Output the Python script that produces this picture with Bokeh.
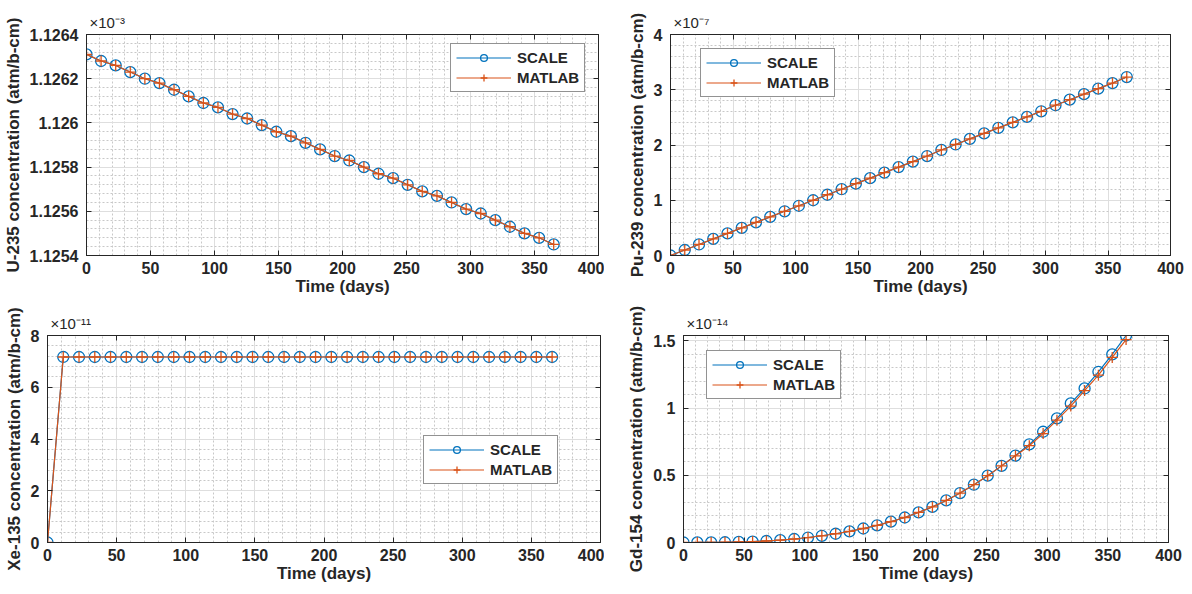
from bokeh.plotting import figure
from bokeh.layouts import column, row
from bokeh.models import (Range1d, FixedTicker, LinearAxis, Legend,
                          LegendItem, CustomJSTickFormatter)
from bokeh.embed import file_html
from bokeh.resources import INLINE

# ---------------- data ----------------
time_days = [0, 11.4, 22.8, 34.2, 45.6, 57.0, 68.4, 79.8, 91.3, 102.7, 114.1,
             125.5, 136.9, 148.3, 159.7, 171.1, 182.5, 193.9, 205.3, 216.7,
             228.1, 239.5, 250.9, 262.3, 273.8, 285.2, 296.6, 308.0, 319.4,
             330.8, 342.2, 353.6, 365.0]

# U-235 (x1e-3 atm/b-cm)
u235_scale = [1.12631, 1.12628, 1.12626, 1.12623, 1.12620, 1.12618, 1.12615,
              1.12612, 1.12609, 1.12607, 1.12604, 1.12602, 1.12599, 1.12596,
              1.12594, 1.12591, 1.12588, 1.12585, 1.12583, 1.12580, 1.12577,
              1.12575, 1.12572, 1.12569, 1.12567, 1.12564, 1.12561, 1.12559,
              1.12556, 1.12553, 1.12550, 1.12548, 1.12545]
u235_matlab = [1.12631, 1.12628, 1.12626, 1.12623, 1.12620, 1.12618, 1.12615,
               1.12612, 1.12609, 1.12607, 1.12604, 1.12602, 1.12599, 1.12596,
               1.12594, 1.12591, 1.12588, 1.12585, 1.12583, 1.12580, 1.12577,
               1.12575, 1.12572, 1.12569, 1.12567, 1.12564, 1.12561, 1.12559,
               1.12556, 1.12553, 1.12550, 1.12548, 1.12545]

# Pu-239 (x1e-7 atm/b-cm)
pu239_scale = [0.00, 0.10, 0.20, 0.30, 0.40, 0.50, 0.60, 0.70, 0.80, 0.90,
               1.00, 1.10, 1.20, 1.30, 1.40, 1.50, 1.60, 1.70, 1.80, 1.91,
               2.01, 2.11, 2.21, 2.31, 2.41, 2.51, 2.61, 2.72, 2.82, 2.92,
               3.02, 3.12, 3.23]
pu239_matlab = [0.00, 0.10, 0.20, 0.30, 0.40, 0.50, 0.60, 0.70, 0.80, 0.90,
                1.00, 1.10, 1.20, 1.30, 1.40, 1.50, 1.60, 1.70, 1.80, 1.91,
                2.01, 2.11, 2.21, 2.31, 2.41, 2.51, 2.61, 2.72, 2.82, 2.92,
                3.02, 3.12, 3.23]

# Xe-135 (x1e-11 atm/b-cm)
xe135_scale = [0.0] + [7.17] * 32
xe135_matlab = [0.0] + [7.17] * 32

# Gd-154 (x1e-14 atm/b-cm)
gd154_scale = [0.000, 0.0002, 0.0008, 0.002, 0.004, 0.007, 0.011, 0.017,
               0.026, 0.037, 0.050, 0.065, 0.083, 0.104, 0.128, 0.155, 0.186,
               0.224, 0.265, 0.313, 0.368, 0.430, 0.497, 0.570, 0.647, 0.730,
               0.824, 0.923, 1.035, 1.146, 1.270, 1.400, 1.540]
gd154_matlab = [0.000, 0.0002, 0.0008, 0.002, 0.004, 0.007, 0.011, 0.017,
                0.026, 0.037, 0.050, 0.065, 0.083, 0.104, 0.128, 0.155, 0.186,
                0.224, 0.265, 0.313, 0.368, 0.430, 0.497, 0.570, 0.645, 0.720,
                0.810, 0.910, 1.015, 1.130, 1.245, 1.377, 1.510]

x_ticks = [0, 50, 100, 150, 200, 250, 300, 350, 400]

# ---------------- style ----------------
BLUE = "#0072BD"
ORANGE = "#D95319"
TXT = "#262626"
FONT = "Liberation Sans"
SUP = str.maketrans("-0123456789", "\u207b\u2070\u00b9\u00b2\u00b3\u2074"
                    "\u2075\u2076\u2077\u2078\u2079")


def frange(a, b, step):
    out = []
    v = a
    while v <= b + step * 1e-6:
        out.append(round(v, 10))
        v += step
    return out


def panel(ys, ym, ylabel, y0, y1, yticks, yminor_step, expo, leg_loc,
          width, height, bl, br, bt, bb):
    p = figure(width=width, height=height, output_backend="svg",
               toolbar_location=None, x_range=Range1d(0, 400),
               y_range=Range1d(y0, y1),
               title="\u00d710" + expo.translate(SUP),
               min_border_left=bl, min_border_right=br,
               min_border_top=bt, min_border_bottom=bb)
    p.title.align = "left"
    p.title.text_font = FONT
    p.title.text_font_size = "15px"
    p.title.text_font_style = "normal"
    p.title.text_color = TXT
    p.title.offset = 3
    p.title.standoff = 0
    p.background_fill_color = "white"
    p.border_fill_color = "white"
    p.outline_line_color = TXT
    p.outline_line_width = 1

    xt = FixedTicker(ticks=x_ticks, minor_ticks=frange(0, 400, 10))
    yt = FixedTicker(ticks=yticks, minor_ticks=frange(y0, y1, yminor_step))
    fmt = CustomJSTickFormatter(code="return String(parseFloat(tick.toFixed(6)));")

    for ax, tk in ((p.xaxis[0], xt), (p.yaxis[0], yt)):
        ax.ticker = tk
        ax.formatter = fmt
        ax.major_tick_in = 5
        ax.major_tick_out = 0
        ax.minor_tick_line_color = None
        ax.axis_line_color = TXT
        ax.major_tick_line_color = TXT
        ax.major_label_text_font = FONT
        ax.major_label_text_font_style = "bold"
        ax.major_label_text_font_size = "16px"
        ax.major_label_text_color = TXT
        ax.axis_label_text_font = FONT
        ax.axis_label_text_font_style = "bold"
        ax.axis_label_text_font_size = "17px"
        ax.axis_label_text_color = TXT
    p.xaxis[0].axis_label = "Time (days)"
    p.xaxis[0].major_label_standoff = 2
    p.xaxis[0].axis_label_standoff = 0
    p.yaxis[0].axis_label = ylabel
    p.yaxis[0].major_label_standoff = 4
    p.yaxis[0].axis_label_standoff = 4

    blank = CustomJSTickFormatter(code="return '';")
    for loc, tk in (("right", yt), ("above", xt)):
        a = LinearAxis(ticker=tk, formatter=blank, major_tick_in=5,
                       major_tick_out=0, minor_tick_line_color=None,
                       axis_line_color=TXT, major_tick_line_color=TXT,
                       major_label_standoff=0,
                       major_label_text_font_size="0px")
        p.add_layout(a, loc)

    for g in (p.xgrid[0], p.ygrid[0]):
        g.grid_line_color = "#dedede"
        g.grid_line_width = 1
        g.minor_grid_line_color = "#c8c8c8"
        g.minor_grid_line_dash = "2 2"
        g.minor_grid_line_width = 1
    p.xgrid[0].ticker = xt
    p.ygrid[0].ticker = yt

    ls = p.line(time_days, ys, line_color=BLUE, line_width=1.2)
    cs = p.scatter(time_days, ys, marker="circle", size=11, line_color=BLUE,
                   fill_color=None, line_width=1.3)
    lm = p.line(time_days, ym, line_color=ORANGE, line_width=1.2)
    cm = p.scatter(time_days, ym, marker="cross", size=11, line_color=ORANGE,
                   line_width=1.3)

    legend = Legend(items=[LegendItem(label="SCALE", renderers=[ls, cs]),
                           LegendItem(label="MATLAB", renderers=[lm, cm])],
                    location=leg_loc)
    legend.border_line_color = TXT
    legend.border_line_width = 1
    legend.background_fill_color = "white"
    legend.background_fill_alpha = 1
    legend.label_text_font = FONT
    legend.label_text_font_style = "bold"
    legend.label_text_font_size = "15px"
    legend.label_text_color = TXT
    legend.glyph_width = 55
    legend.glyph_height = 17
    legend.label_height = 17
    legend.label_width = 60
    legend.label_standoff = 6
    legend.padding = 5
    legend.spacing = 3
    legend.margin = 0
    p.add_layout(legend)
    return p


p1 = panel(u235_scale, u235_matlab, "U-235 concentration (atm/b-cm)",
           1.1254, 1.1264, [1.1254, 1.1256, 1.1258, 1.126, 1.1262, 1.1264],
           0.00004, "-3", (364, 163), 604, 300, 86, 6, 31, 45)
p2 = panel(pu239_scale, pu239_matlab, "Pu-239 concentration (atm/b-cm)",
           0, 4, [0, 1, 2, 3, 4], 0.2, "-7", (30, 158), 586, 300,
           66, 20, 34, 41)
p3 = panel(xe135_scale, xe135_matlab, "Xe-135 concentration (atm/b-cm)",
           0, 8, [0, 2, 4, 6, 8], 0.4, "-11", (376, 58), 604, 292,
           47, 4, 22, 49)
p4 = panel(gd154_scale, gd154_matlab, "Gd-154 concentration (atm/b-cm)",
           0, 1.54, [0, 0.5, 1, 1.5], 0.1, "-14", (23, 143), 586, 292,
           79, 22, 35, 50)

layout = column(row(p1, p2), row(p3, p4))
open("out.html", "w").write(file_html(layout, INLINE))
